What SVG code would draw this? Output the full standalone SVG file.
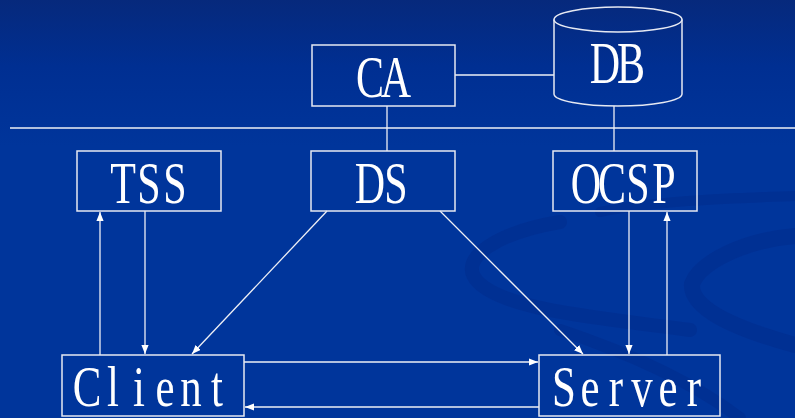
<svg xmlns="http://www.w3.org/2000/svg" width="795" height="418" viewBox="0 0 795 418">
  <style>
    .box { fill: none; stroke: #e6e9f2; stroke-width: 1.5; }
    .wire { fill: none; stroke: #eef0f6; stroke-width: 1.3; }
    .arrow { marker-end: url(#head); }
    .label { font-family: "Liberation Serif", "Times New Roman", serif; font-size: 60px; fill: #ffffff; text-anchor: middle; }
    .low { font-size: 58px; }
    .swirl { fill: none; stroke: #002a8a; stroke-linecap: round; opacity: 0.45; }
  </style>
  <defs>
    <linearGradient id="bg" x1="0" y1="0" x2="0" y2="1">
      <stop offset="0" stop-color="#06297c"/>
      <stop offset="0.16" stop-color="#002f92"/>
      <stop offset="0.35" stop-color="#00359b"/>
      <stop offset="1" stop-color="#00359b"/>
    </linearGradient>
    <marker id="head" viewBox="0 0 10 8" refX="10" refY="4" markerWidth="9" markerHeight="7.5" markerUnits="userSpaceOnUse" orient="auto">
      <path d="M0,0 L10,4 L0,8 z" fill="#ffffff"/>
    </marker>
  </defs>

  <!-- background -->
  <rect width="795" height="418" fill="url(#bg)"/>
  <g id="background-swirls">
    <path class="swirl" stroke-width="14" d="M560,222 C500,232 455,258 478,282 C505,310 600,318 690,330"/>
    <path class="swirl" stroke-width="10" d="M600,212 C660,200 740,198 795,196"/>
    <path class="swirl" stroke-width="16" d="M795,236 C745,240 700,262 692,284 C690,310 740,330 795,345"/>
    <path class="swirl" stroke-width="12" d="M560,330 C620,350 690,380 740,418"/>
  </g>

  <!-- separator -->
  <line class="wire" x1="10" y1="128" x2="795" y2="128"/>

  <g id="connectors">
    <line class="wire" x1="455" y1="75" x2="554" y2="75"/>
    <line class="wire" x1="387" y1="106" x2="387" y2="151"/>
    <line class="wire" x1="614" y1="106" x2="614" y2="151"/>
    <line class="wire arrow" x1="100" y1="355" x2="100" y2="212"/>
    <line class="wire arrow" x1="145" y1="211" x2="145" y2="354"/>
    <line class="wire arrow" x1="327" y1="211" x2="192" y2="354"/>
    <line class="wire arrow" x1="440" y1="211" x2="583" y2="354"/>
    <line class="wire arrow" x1="629" y1="211" x2="629" y2="354"/>
    <line class="wire arrow" x1="667" y1="355" x2="667" y2="212"/>
    <line class="wire arrow" x1="244" y1="362" x2="538" y2="362"/>
    <line class="wire arrow" x1="539" y1="407" x2="245" y2="407"/>
  </g>

  <g id="CA">
    <rect class="box" x="312" y="45" width="143" height="61"/>
    <text class="label" transform="translate(383,97) scale(0.7,1)" x="-18.6 18.6">CA</text>
  </g>

  <g id="DB">
    <path class="box" d="M554,19.5 V94 A64,12 0 0 0 682,94 V19.5"/>
    <ellipse class="box" cx="618" cy="19.5" rx="64" ry="12.5"/>
    <text class="label" transform="translate(618,83) scale(0.7,1)" x="-18.6 18.6">DB</text>
  </g>

  <g id="TSS">
    <rect class="box" x="77" y="151" width="144" height="60"/>
    <text class="label" transform="translate(149,203) scale(0.7,1)" x="-37.1 0 37.1">TSS</text>
  </g>

  <g id="DS">
    <rect class="box" x="311" y="151" width="144" height="60"/>
    <text class="label" transform="translate(383,203) scale(0.7,1)" x="-18.6 18.6">DS</text>
  </g>

  <g id="OCSP">
    <rect class="box" x="553" y="151" width="144" height="60"/>
    <text class="label" transform="translate(625,203) scale(0.7,1)" x="-55.7 -18.6 18.6 55.7">OCSP</text>
  </g>

  <g id="Client">
    <rect class="box" x="62" y="355" width="182" height="61"/>
    <text class="label low" transform="translate(152,406) scale(0.74,1)" x="-87.8 -52.7 -17.6 17.6 52.7 87.8">Client</text>
  </g>

  <g id="Server">
    <rect class="box" x="539" y="355" width="181" height="61"/>
    <text class="label low" transform="translate(629,406) scale(0.74,1)" x="-87.8 -52.7 -17.6 17.6 52.7 87.8">Server</text>
  </g>
</svg>
